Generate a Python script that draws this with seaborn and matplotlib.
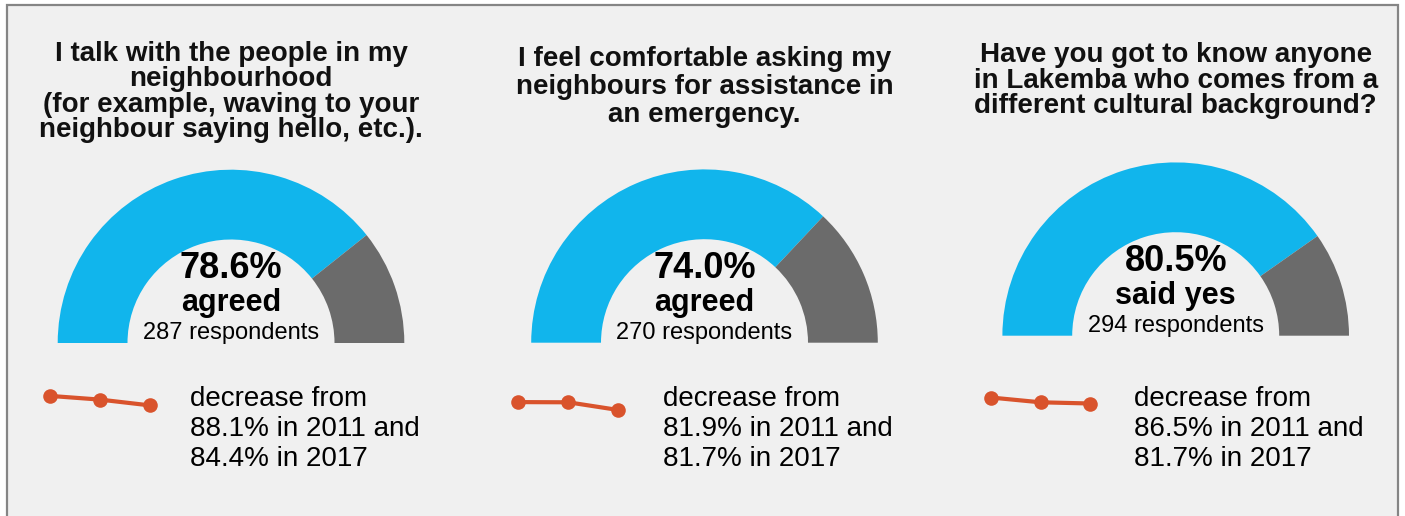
import matplotlib
matplotlib.use("Agg")
import matplotlib.pyplot as plt
import seaborn as sns
import pandas as pd
from matplotlib.patches import Rectangle

# ---- survey results ----
titles = [
    ["I talk with the people in my", "neighbourhood",
     "(for example, waving to your", "neighbour saying hello, etc.)."],
    ["I feel comfortable asking my", "neighbours for assistance in",
     "an emergency."],
    ["Have you got to know anyone", "in Lakemba who comes from a",
     "different cultural background?"],
]
current_pct = [78.6, 74.0, 80.5]
answer_labels = ["agreed", "agreed", "said yes"]
respondents = [287, 270, 294]
pct_2011 = [88.1, 81.9, 86.5]
pct_2017 = [84.4, 81.7, 81.7]
waves = ["2011", "2017", "latest"]

# ---- styling ----
BLUE = "#11b5ec"
GREY = "#6b6b6b"
ORANGE = "#d9532c"
PANEL_BG = "#f0f0f0"
BORDER = "#858585"

sns.set_theme(style="white")
plt.rcParams["font.family"] = ["Liberation Sans", "DejaVu Sans"]

W, H = 1405, 516
fig = plt.figure(figsize=(W / 100, H / 100), dpi=100)
fig.patch.set_facecolor("white")


def px_axes(x0, y0, x1, y1):
    """Add an axes given a pixel box measured from the top-left corner."""
    return fig.add_axes([x0 / W, 1 - y1 / H, (x1 - x0) / W, (y1 - y0) / H])


def px_text(x, y, s, **kw):
    fig.text(x / W, 1 - y / H, s, **kw)


# panel frame, kept behind every axes
frame = Rectangle((7 / W, -0.05), (1398 - 7) / W, 1 - 5 / H + 0.05,
                  transform=fig.transFigure, facecolor=PANEL_BG,
                  edgecolor=BORDER, linewidth=1.6, zorder=-10)
fig.add_artist(frame)

# layout per panel
gauge_cx = [231, 704.5, 1175.7]
gauge_base = [343, 342.7, 335.7]
r_out, r_in = 173.3, 103.5
title_baselines = [[60.7, 86, 111.7, 136.7], [66, 94, 121.7], [61.7, 88, 113]]
spark_x0 = [50, 518.3, 990.7]
spark_dx = [50, 50.0, 49.8]
note_x = [190, 662.7, 1134]
note_baselines = [406, 436.5, 466.5]

for i in range(3):
    cx, cy = gauge_cx[i], gauge_base[i]

    # title
    for line, yb in zip(titles[i], title_baselines[i]):
        px_text(cx, yb, line, ha="center", va="baseline", fontsize=20,
                fontweight="bold", color="#111111")

    # semicircular gauge: hidden lower half completes the pie
    half = 190
    ax = px_axes(cx - half, cy - half, cx + half, cy + half)
    p = current_pct[i]
    wedges, _ = ax.pie([p, 100 - p, 100], colors=[BLUE, GREY, "none"],
                       startangle=180, counterclock=False, radius=1.0,
                       wedgeprops=dict(width=1 - r_in / r_out, edgecolor="none",
                                       linewidth=0))
    wedges[2].set_visible(False)
    lim = half / r_out
    ax.set_xlim(-lim, lim)
    ax.set_ylim(-lim, lim)
    ax.set_axis_off()

    # centre labels
    px_text(cx, cy - 65, f"{p:.1f}%", ha="center", va="baseline",
            fontsize=26, fontweight="bold", color="black")
    px_text(cx, cy - 32, answer_labels[i], ha="center", va="baseline",
            fontsize=22, fontweight="bold", color="black")
    px_text(cx, cy - 4, f"{respondents[i]} respondents", ha="center",
            va="baseline", fontsize=17, color="black")

    # trend sparkline
    dx = spark_dx[i]
    sax = px_axes(spark_x0[i] - 0.4 * dx, 370, spark_x0[i] + 2.4 * dx, 430)
    df = pd.DataFrame({"wave": waves,
                       "pct": [pct_2011[i], pct_2017[i], current_pct[i]]})
    sns.lineplot(data=df, x="wave", y="pct", ax=sax, color=ORANGE,
                 linewidth=3.0, marker="o", markersize=10.5,
                 markeredgewidth=0, legend=False)
    sax.set_xlim(-0.4, 2.4)
    sax.set_ylim(484 - 430, 484 - 370)
    sax.set_axis_off()

    # trend note
    note = ["decrease from",
            f"{pct_2011[i]:.1f}% in 2011 and",
            f"{pct_2017[i]:.1f}% in 2017"]
    for line, yb in zip(note, note_baselines):
        px_text(note_x[i], yb, line, ha="left", va="baseline", fontsize=20,
                color="black")

fig.savefig("out.png", dpi=100, facecolor=fig.get_facecolor())
